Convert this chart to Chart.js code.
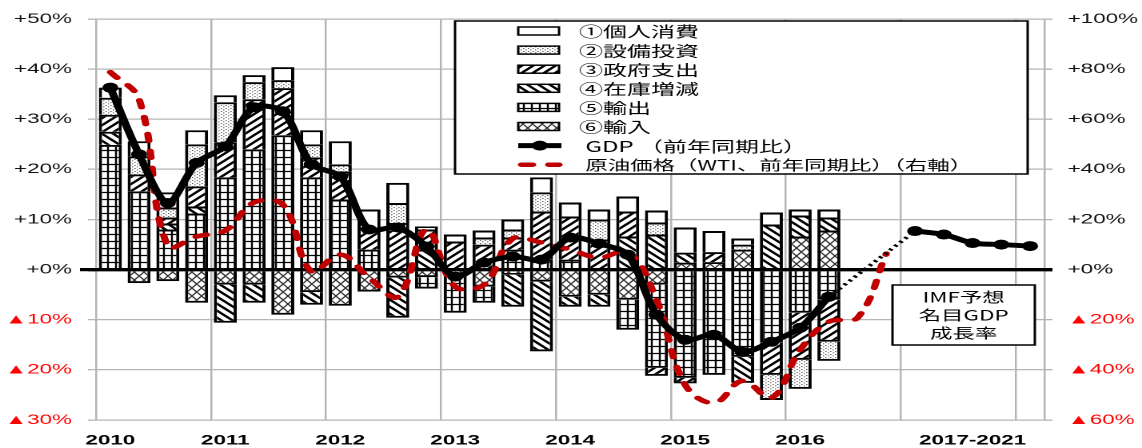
<!DOCTYPE html>
<html lang="ja">
<head>
<meta charset="utf-8">
<title>名目GDP成長率の需要項目別寄与度と原油価格</title>
<script src="https://cdn.jsdelivr.net/npm/chart.js@4.4.1/dist/chart.umd.min.js"></script>
<style>
  html, body { margin: 0; padding: 0; background: #fff; overflow: hidden; }
  /* the chart is laid out on a narrower canvas and widened horizontally */
  #stage {
    position: absolute; left: 0; top: 0;
    width: 714px; height: 448px;
    transform-origin: 0 0;
    transform: scaleX(1.59944);
  }
</style>
</head>
<body>
<div id="stage"><canvas id="chart"></canvas></div>
<script>
// ---------------- data ----------------
const years = ['2010', '2011', '2012', '2013', '2014', '2015', '2016'];
const quarterNames = ['Q1', 'Q2', 'Q3', 'Q4'];
const quarters = years.flatMap(y => quarterNames.map(q => y + q));
const forecastYears = ['2017', '2018', '2019', '2020', '2021'];
const forecastTick = '2017-2021';
const categories = quarters.concat(forecastYears);

const seriesLabels = ['①個人消費', '②設備投資', '③政府支出', '④在庫増減', '⑤輸出', '⑥輸入'];

// contributions to growth, % points (2010Q1 - 2016Q2)
const consumption = [2.0, 3.0, 3.0, 2.8, 1.4, 1.4, 2.6, 2.8, 4.6, 3.6, 4.0, 0.6, 1.4,
                     1.4, 2.0, 3.0, 2.8, 2.0, 3.0, 2.4, 5.0, 4.2, 1.2, 2.4, 1.2, 1.6];
const investment  = [3.4, 3.6, 2.0, 8.4, 8.0, 3.4, 1.6, 2.6, 1.4, 0, 4.0, 0, 0,
                     1.4, 1.6, 3.8, 0, 4.0, 0, 2.4, 0, 0, 1.0, -5.0, -5.8, -3.8];
const government  = [3.4, 3.4, 1.2, 4.0, 7.0, 10.0, 9.4, 4.0, 5.6, 4.4, 9.3, 4.0, 5.6,
                     5.0, 2.4, 9.6, 8.6, 6.0, 5.0, -1.6, -1.1, 2.0, 0, -6.4, -9.4, -8.4];
const inventory   = [2.6, 0, 1.2, 1.4, -7.6, -3.6, 0, -2.5, 0, 0, -8.0, 4.0, 0,
                     0, -6.4, -13.9, -2.0, -2.4, 6.6, 7.0, 2.0, 0, -5.2, 9.0, 4.2, 2.6];
const exportsC    = [24.9, 15.6, 8.0, 11.2, 18.4, 24.0, 26.8, 18.4, 14.0, 4.0, 0, -2.3, -7.6,
                     -3.2, 4.0, 2.0, 2.0, 0, -6.0, -16.6, -21.6, -21.0, -17.4, -14.6, -8.6, -6.0];
const importsC    = [0, -2.7, -2.3, -6.6, -3.0, -3.0, -9.0, -4.5, -7.2, -4.4, -1.6, -1.5, -1.0,
                     -3.4, -1.0, -2.4, -5.4, -5.0, -6.0, -3.0, 1.4, 1.5, 4.0, 0, 6.6, 7.8];

// nominal GDP, year-on-year %
const gdpQuarterly = [36.3, 23.0, 13.3, 21.3, 24.6, 32.4, 31.6, 21.0, 18.6, 8.0, 8.4, 4.6, -1.4,
                      1.4, 2.6, 2.0, 6.4, 5.2, 3.0, -9.0, -14.0, -13.0, -16.4, -14.4, -11.6, -5.4];
const gdpForecast = [7.7, 7.0, 5.3, 5.0, 4.7];

// WTI crude, year-on-year % (right axis)
const oilPrice = [78.8, 68.0, 9.2, 13.2, 15.6, 26.8, 26.0, -0.8, 6.0, -3.2, -10.8, 16.0, -6.8,
                  -6.0, 12.4, 10.8, 8.0, 4.8, 7.2, -12.0, -46.0, -53.2, -44.4, -51.2, -32.0, -20.8,
                  -19.2, 6.4];

const gdpLabel = 'GDP （前年同期比）';
const oilLabel = '原油価格（WTI、前年同期比）（右軸）';
const noteLines = ['IMF予想', '名目GDP', '成長率'];

const leftRange = [-30, 50, 10];
const rightRange = [-60, 100, 20];

// x tick text: the year under each Q1, one label for the forecast block
const xTickText = categories.map((c, i) => {
  if (i < quarters.length) return c.endsWith('Q1') ? c.slice(0, 4) : '';
  return c === forecastYears[2] ? forecastTick : '';
});

// ---------------- styling helpers ----------------
const NUM_FONT = "'Liberation Sans', 'DejaVu Sans', sans-serif";
const CJK_FONT = "'Noto Sans CJK JP', 'Noto Sans CJK SC', sans-serif";
const GRID = '#b5b5b5';

const SS = 2;
function tile(w, h, paint) {
  const c = document.createElement('canvas');
  c.width = Math.round(w * SS);
  c.height = Math.round(h * SS);
  const g = c.getContext('2d');
  g.scale(SS, SS);
  g.fillStyle = '#fff';
  g.fillRect(0, 0, w, h);
  paint(g, w, h);
  const p = g.createPattern(c, 'repeat');
  p.setTransform(new DOMMatrix([1 / SS, 0, 0, 1 / SS, 0, 0]));
  return p;
}
function strokeWrapped(g, w, h, segs) {
  g.beginPath();
  for (const dx of [-w, 0, w]) {
    for (const dy of [-h, 0, h]) {
      for (const [x1, y1, x2, y2] of segs) {
        g.moveTo(x1 + dx, y1 + dy);
        g.lineTo(x2 + dx, y2 + dy);
      }
    }
  }
  g.stroke();
}

const fills = [
  '#ffffff',
  tile(3, 3, g => { g.fillStyle = '#222'; g.fillRect(0, 0, 0.75, 0.75); g.fillRect(1.5, 1.5, 0.75, 0.75); }),
  tile(7, 7, (g, w, h) => { g.strokeStyle = '#000'; g.lineWidth = 2; strokeWrapped(g, w, h, [[0, h, w, 0]]); }),
  tile(7, 7, (g, w, h) => { g.strokeStyle = '#000'; g.lineWidth = 2; strokeWrapped(g, w, h, [[0, 0, w, h]]); }),
  tile(5, 7, (g, w, h) => { g.strokeStyle = '#000'; g.lineWidth = 1.2;
                            strokeWrapped(g, w, h, [[0, h / 2, w, h / 2], [w / 2, 0, w / 2, h]]); }),
  tile(6, 8, (g, w, h) => { g.strokeStyle = '#333'; g.lineWidth = 1;
                            strokeWrapped(g, w, h, [[0, 0, w, h], [0, h, w, 0]]); })
];

function pct(v) {
  if (v > 0) return '+' + v + '%';
  if (v === 0) return '+0%';
  return '▲' + (-v) + '%';
}

// ---------------- datasets ----------------
const components = [consumption, investment, government, inventory, exportsC, importsC];
const barDatasets = components.map((vals, k) => ({
  type: 'bar',
  label: seriesLabels[k],
  data: vals,
  backgroundColor: fills[k],
  borderColor: '#000',
  borderWidth: 2,
  stack: 'components',
  order: 2,
  legendRank: k,
  barPercentage: 0.8,
  categoryPercentage: 1.0
})).reverse();   // imports sit next to the axis, consumption on the outside

const lastQ = gdpQuarterly.length - 1;
const gdpSeries = categories.map((c, i) =>
  i < gdpQuarterly.length ? gdpQuarterly[i]
  : (i >= quarters.length ? gdpForecast[i - quarters.length] : null));
const gdpBridge = categories.map((c, i) =>
  i === lastQ ? gdpQuarterly[lastQ] : (i === quarters.length ? gdpForecast[0] : null));

const datasets = barDatasets.concat([
  {
    type: 'line', label: gdpLabel, data: gdpSeries,
    borderColor: '#000', borderWidth: 5, tension: 0.3, spanGaps: false,
    pointRadius: 5, pointHoverRadius: 5, pointBackgroundColor: '#000', pointBorderWidth: 0,
    stack: 'gdp', order: 0, legendRank: 6
  },
  {
    type: 'line', label: '', data: gdpBridge,
    borderColor: '#000', borderWidth: 3, borderDash: [2, 3], tension: 0, spanGaps: true,
    pointRadius: 0, pointHoverRadius: 0, stack: 'bridge', order: 0
  },
  {
    type: 'line', label: oilLabel, data: oilPrice, yAxisID: 'y2',
    borderColor: '#c00000', borderWidth: 4.5, borderDash: [7, 10], borderCapStyle: 'round',
    borderJoinStyle: 'round', tension: 0.4, pointRadius: 0, pointHoverRadius: 0,
    order: 1, legendRank: 7
  }
]);

// ---------------- legend, forecast note, zero line ----------------
const decorations = {
  id: 'decorations',
  afterDatasetDraw(chart, args) {
    if (args.index !== 0) return;           // last bar series drawn
    const ctx = chart.ctx, a = chart.chartArea;
    const y0 = chart.scales.y.getPixelForValue(0);
    ctx.save();
    ctx.strokeStyle = '#000';
    ctx.lineWidth = 3.3;
    ctx.beginPath();
    ctx.moveTo(a.left - 10, y0);
    ctx.lineTo(a.right + 5, y0);
    ctx.stroke();
    ctx.restore();
  },
  afterDatasetsDraw(chart) {
    const ctx = chart.ctx;
    ctx.save();

    // legend box
    const L = { x: 284.5, y: 21, w: 358, h: 153, swX: 324, swW: 25.5, swH: 8,
                textX: 362, rowY: 31, step: 19.1 };
    ctx.fillStyle = '#fff';
    ctx.fillRect(L.x, L.y, L.w, L.h);
    ctx.strokeStyle = '#000';
    ctx.lineWidth = 1.5;
    ctx.strokeRect(L.x, L.y, L.w, L.h);

    const items = chart.data.datasets
      .filter(d => d.legendRank !== undefined)
      .sort((p, q) => p.legendRank - q.legendRank);
    items.forEach((d, r) => {
      const y = L.rowY + r * L.step;
      if (d.type === 'bar') {
        ctx.fillStyle = d.backgroundColor;
        ctx.fillRect(L.swX, y - L.swH / 2, L.swW, L.swH);
        ctx.strokeStyle = '#000';
        ctx.lineWidth = 1.5;
        ctx.setLineDash([]);
        ctx.strokeRect(L.swX, y - L.swH / 2, L.swW, L.swH);
      } else if (d.yAxisID === 'y2') {
        ctx.strokeStyle = d.borderColor;
        ctx.lineWidth = d.borderWidth;
        ctx.lineCap = 'round';
        ctx.setLineDash(d.borderDash);
        ctx.beginPath();
        ctx.moveTo(L.swX + 2, y);
        ctx.lineTo(L.swX + L.swW, y);
        ctx.stroke();
        ctx.setLineDash([]);
        ctx.lineCap = 'butt';
      } else {
        ctx.strokeStyle = d.borderColor;
        ctx.lineWidth = d.borderWidth;
        ctx.beginPath();
        ctx.moveTo(L.swX, y);
        ctx.lineTo(L.swX + L.swW + 1.5, y);
        ctx.stroke();
        ctx.fillStyle = d.pointBackgroundColor;
        ctx.beginPath();
        ctx.arc(L.swX + (L.swW + 1.5) / 2, y, d.pointRadius, 0, Math.PI * 2);
        ctx.fill();
      }
      ctx.fillStyle = '#000';
      ctx.textBaseline = 'middle';
      ctx.textAlign = 'left';
      ctx.font = (d.yAxisID === 'y2' ? '14px ' : '15px ') + CJK_FONT;
      ctx.fillText(d.label, d.type === 'bar' ? L.textX : L.textX + 4, y + 0.5);
    });

    // forecast note
    const N = { x: 558, y: 285, w: 89, h: 60 };
    ctx.fillStyle = '#fff';
    ctx.fillRect(N.x, N.y, N.w, N.h);
    ctx.strokeStyle = '#000';
    ctx.lineWidth = 1.5;
    ctx.strokeRect(N.x, N.y, N.w, N.h);
    ctx.fillStyle = '#000';
    ctx.font = '14px ' + CJK_FONT;
    ctx.textAlign = 'center';
    ctx.textBaseline = 'middle';
    noteLines.forEach((t, i) => ctx.fillText(t, N.x + N.w / 2, 297 + i * 18));

    ctx.restore();
  }
};

// ---------------- chart ----------------
Chart.defaults.font.family = NUM_FONT;

new Chart(document.getElementById('chart'), {
  type: 'bar',
  data: { labels: categories, datasets },
  plugins: [decorations],
  options: {
    responsive: true,
    maintainAspectRatio: false,
    devicePixelRatio: 2,
    animation: false,
    events: [],
    layout: { padding: { top: 19, left: 0, right: 0, bottom: 0 } },
    plugins: { legend: { display: false }, tooltip: { enabled: false } },
    scales: {
      x: {
        stacked: true,
        offset: true,
        grid: {
          offset: true,
          drawTicks: false,
          lineWidth: 1.25,
          color: ctx => (ctx.type !== 'tick' || ctx.index % 4 === 0) ? GRID : 'rgba(0,0,0,0)'
        },
        border: { display: false },
        ticks: {
          autoSkip: false, maxRotation: 0, minRotation: 0, padding: 12,
          color: '#000',
          font: { family: NUM_FONT, size: 14, weight: 'bold' },
          callback: (v, i) => xTickText[i]
        },
        afterFit: s => { s.height = 28; }
      },
      y: {
        stacked: true,
        position: 'left',
        min: leftRange[0], max: leftRange[1],
        grid: {
          tickLength: 5,
          color: ctx => (ctx.tick && ctx.tick.value === 0) ? '#000' : GRID,
          lineWidth: ctx => (ctx.tick && ctx.tick.value === 0) ? 3.3 : 1.3
        },
        border: { display: false },
        ticks: {
          stepSize: leftRange[2], padding: 10,
          font: { family: NUM_FONT, size: 14 },
          color: ctx => ctx.tick.value < 0 ? '#ff0000' : '#111',
          callback: v => pct(v)
        },
        afterFit: s => { s.width = 60; }
      },
      y2: {
        position: 'right',
        min: rightRange[0], max: rightRange[1],
        grid: {
          drawOnChartArea: false,
          tickLength: 5,
          color: ctx => (ctx.tick && ctx.tick.value === 0) ? '#000' : GRID,
          lineWidth: ctx => (ctx.tick && ctx.tick.value === 0) ? 3.3 : 1.3
        },
        border: { display: false },
        ticks: {
          stepSize: rightRange[2], padding: 9.5,
          font: { family: NUM_FONT, size: 14 },
          color: ctx => ctx.tick.value < 0 ? '#ff0000' : '#111',
          callback: v => pct(v)
        },
        afterFit: s => { s.width = 61; }
      }
    }
  }
});
</script>
</body>
</html>
